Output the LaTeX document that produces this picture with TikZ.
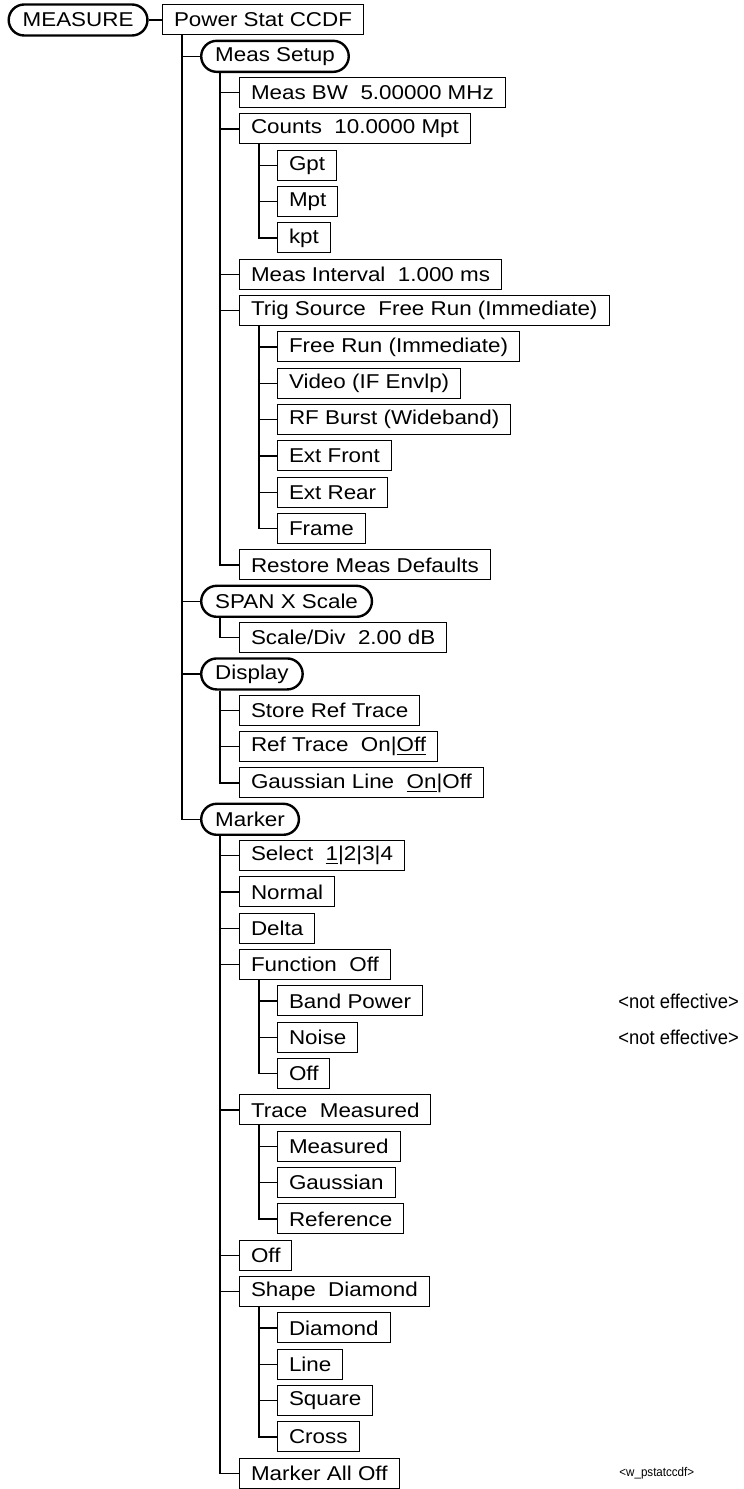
\documentclass[tikz,border=0pt]{standalone}
\usepackage{fontspec}
\setmainfont[FakeStretch=1.12]{Liberation Sans}
\newfontfamily\narrowfont[FakeStretch=0.92]{Liberation Sans}

\begin{document}
\begin{tikzpicture}[x=0.5pt,y=-18.165pt,
  softkey/.style={draw,line width=0.5pt,anchor=west,minimum height=15pt,inner xsep=5.75pt,inner ysep=0pt,font=\fontsize{10}{12}\selectfont},
  hardkey/.style={softkey,line width=1.2pt,rounded corners=7.75pt,minimum height=15.5pt,inner xsep=7pt},
  note/.style={anchor=west,inner sep=0pt,font=\narrowfont\fontsize{10}{12}\selectfont},
  link/.style={line width=0.6pt}]
  \useasboundingbox (0,-0.5505) rectangle (743,40.434);
  \node[hardkey] (m) at (7.5,0) {MEASURE};
  \node[softkey] (ps) at (162,0) {Power Stat CCDF};
  \node[hardkey] (setup) at (200,1) {Meas Setup};
  \node[softkey] (bw) at (239,2) {Meas BW\ \ 5.00000 MHz};
  \node[softkey] (counts) at (239,3) {Counts\ \ 10.0000 Mpt};
  \node[softkey] (gpt) at (277,4) {Gpt};
  \node[softkey] (mpt) at (277,5) {Mpt};
  \node[softkey] (kpt) at (277,6) {kpt};
  \node[softkey] (intv) at (239,7) {Meas Interval\ \ 1.000 ms};
  \node[softkey] (trig) at (239,8) {Trig Source\ \ Free Run (Immediate)};
  \node[softkey] (free) at (277,9) {Free Run (Immediate)};
  \node[softkey] (video) at (277,10) {Video (IF Envlp)};
  \node[softkey] (rfb) at (277,11) {RF Burst (Wideband)};
  \node[softkey] (extf) at (277,12) {Ext Front};
  \node[softkey] (extr) at (277,13) {Ext Rear};
  \node[softkey] (frame) at (277,14) {Frame};
  \node[softkey] (restore) at (239,15) {Restore Meas Defaults};
  \node[hardkey] (span) at (200,16) {SPAN X Scale};
  \node[softkey] (scdiv) at (239,17) {Scale/Div\ \ 2.00 dB};
  \node[hardkey] (disp) at (200,18) {Display};
  \node[softkey] (store) at (239,19) {Store Ref Trace};
  \node[softkey] (reftr) at (239,20) {Ref Trace\ \ On|\underline{Off}};
  \node[softkey] (gauss) at (239,21) {Gaussian Line\ \ \underline{On}|Off};
  \node[hardkey] (mkr) at (200,22) {Marker};
  \node[softkey] (sel) at (239,23) {Select\ \ \underline{1}|2|3|4};
  \node[softkey] (normal) at (239,24) {Normal};
  \node[softkey] (delta) at (239,25) {Delta};
  \node[softkey] (func) at (239,26) {Function\ \ Off};
  \node[softkey] (bandp) at (277,27) {Band Power};
  \node[softkey] (noise) at (277,28) {Noise};
  \node[softkey] (foff) at (277,29) {Off};
  \node[softkey] (trace) at (239,30) {Trace\ \ Measured};
  \node[softkey] (meas) at (277,31) {Measured};
  \node[softkey] (gaus) at (277,32) {Gaussian};
  \node[softkey] (ref) at (277,33) {Reference};
  \node[softkey] (moff) at (239,34) {Off};
  \node[softkey] (shape) at (239,35) {Shape\ \ Diamond};
  \node[softkey] (diam) at (277,36) {Diamond};
  \node[softkey] (line) at (277,37) {Line};
  \node[softkey] (square) at (277,38) {Square};
  \node[softkey] (cross) at (277,39) {Cross};
  \node[softkey] (alloff) at (239,40) {Marker All Off};
  \node[note] (ne1) at (618,27) {<not effective>};
  \node[note] (ne2) at (618,28) {<not effective>};
  \node[note,font=\narrowfont\fontsize{6.3}{7.5}\selectfont] (fname) at (619,40) {<w\_pstatccdf>};
  \draw[link] (m.east) -- (ps.west);
  \foreach \p/\cs in {ps/{setup,span,disp,mkr},setup/{bw,counts,intv,trig,restore},counts/{gpt,mpt,kpt},
    trig/{free,video,rfb,extf,extr,frame},span/{scdiv},disp/{store,reftr,gauss},
    mkr/{sel,normal,delta,func,trace,moff,shape,alloff},func/{bandp,noise,foff},
    trace/{meas,gaus,ref},shape/{diam,line,square,cross}}
    \foreach \c in \cs \draw[link] ([xshift=10pt]\p.south west) |- (\c.west);
\end{tikzpicture}
\end{document}
